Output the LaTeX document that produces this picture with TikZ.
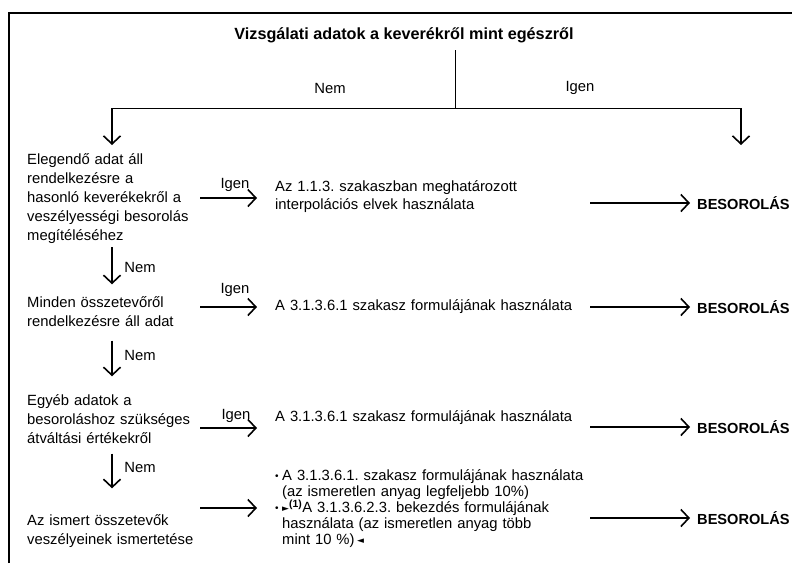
\documentclass[tikz,border=0pt]{standalone}
\usepackage{fontspec}
\setmainfont{Liberation Sans}
\newfontfamily\djv{DejaVu Sans}
\usetikzlibrary{arrows.meta,calc}
\newcommand\mybul{\makebox[7pt][l]{\raisebox{1.2pt}{\fontsize{10}{10}\selectfont•}}}
\newcommand\myind{\hspace*{7pt}}
\newcommand\mytri[1]{\raisebox{1.2pt}{\djv\fontsize{9}{9}\selectfont #1}}
\begin{document}
\begin{tikzpicture}[x=1pt,y=-1pt,
  every node/.append style={execute at begin node=\frenchspacing},
  txt/.style={inner sep=0pt,align=left,font=\fontsize{14.8}{19}\selectfont},
  ques/.style={txt,text width=173pt,anchor=west},
  act/.style={txt,text width=315pt,anchor=west,font=\fontsize{14.8}{18}\selectfont},
  res/.style={inner sep=0pt,anchor=west,font=\fontsize{14.6}{18}\selectfont\bfseries},
  lbl/.style={inner sep=0pt,font=\fontsize{14.8}{18}\selectfont},
  arr/.style={line width=2.1pt,-{Straight Barb[length=8pt,width=17pt,line width=1.6pt]}},
  conn/.style={line width=1pt},
  frame/.style={line width=1.4pt}]
\useasboundingbox (0,0) rectangle (792,563);
\draw[frame] (9,563) -- (9,13) -- (792,13);

% title and top split
\node[inner sep=0pt,font=\fontsize{16.2}{20}\selectfont\bfseries] (title) at (404,35) {Vizsgálati adatok a keverékről mint egészről};
\coordinate (split) at (455,108);
\coordinate (lc) at (112,108);
\coordinate (rc) at (741,108);
\coordinate (lend) at (112,145);
\coordinate (rend) at (741,145);
\coordinate (spine) at (112,0);
\draw[conn,shorten <=7.5pt] (title.south -| split) -- (split);
\draw[conn] (lc) -- (rc);
\draw[arr] (lc) -- (lend);
\draw[arr] (rc) -- (rend);
\node[lbl] (tnem) at (330,88) {Nem};
\node[lbl] (tigen) at (580,88) {Igen};

% questions
\node[ques] (q1) at (27,199) {Elegendő adat áll\\rendelkezésre a\\hasonló keverékekről a\\veszélyességi besorolás\\megítéléséhez};
\node[ques] (q2) at (27,312) {Minden összetevőről\\rendelkezésre áll adat};
\node[ques] (q3) at (27,419) {Egyéb adatok a\\besoroláshoz szükséges\\átváltási értékekről};
\node[ques] (q4) at (27,531) {Az ismert összetevők\\veszélyeinek ismertetése};

% actions
\node[act] (a1) at (275,197) {Az 1.1.3. szakaszban meghatározott\\interpolációs elvek használata};
\node[act] (a2) at (275,307) {A 3.1.3.6.1 szakasz formulájának használata};
\node[act] (a3) at (275,418) {A 3.1.3.6.1 szakasz formulájának használata};
\node[act,font=\fontsize{14.8}{16}\selectfont] (a4) at (275,509) {\mybul A 3.1.3.6.1. szakasz formulájának használata\\\myind(az ismeretlen anyag legfeljebb 10\%)\\\mybul\mytri{►}\textsuperscript{\textbf{(1)}}A 3.1.3.6.2.3. bekezdés formulájának\\\myind használata (az ismeretlen anyag több\\\myind mint 10~\%)\,\mytri{◄}};

% results
\node[res] (b1) at (697,203) {BESOROLÁS};
\node[res] (b2) at (697,307) {BESOROLÁS};
\node[res] (b3) at (697,427) {BESOROLÁS};
\node[res] (b4) at (697,518) {BESOROLÁS};

% row levels of left arrows
\coordinate (r1) at (0,198);
\coordinate (r2) at (0,307);
\coordinate (r3) at (0,428);
\coordinate (r4) at (0,508);

\draw[arr] (q1.east |- r1) -- ($(a1.west |- r1)+(-18,0)$);
\draw[arr] (q2.east |- r2) -- ($(a2.west |- r2)+(-18,0)$);
\draw[arr] (q3.east |- r3) -- ($(a3.west |- r3)+(-18,0)$);
\draw[arr] (q4.east |- r4) -- ($(a4.west |- r4)+(-18,0)$);
\node[lbl] (i1) at (235,185) {Igen};
\node[lbl] (i2) at (235,290) {Igen};
\node[lbl] (i3) at (236,416) {Igen};

\draw[arr] (a1.east |- b1) -- ($(b1.west)+(-7,0)$);
\draw[arr] (a2.east |- b2) -- ($(b2.west)+(-7,0)$);
\draw[arr] (a3.east |- b3) -- ($(b3.west)+(-7,0)$);
\draw[arr] (a4.east |- b4) -- ($(b4.west)+(-7,0)$);

% down arrows
\draw[arr,shorten <=3pt,shorten >=12.5pt] (q1.south -| spine) -- (q2.north -| spine);
\draw[arr,shorten <=13.5pt,shorten >=18pt] (q2.south -| spine) -- (q3.north -| spine);
\draw[arr,shorten <=10pt,shorten >=26pt] (q3.south -| spine) -- (q4.north -| spine);
\node[lbl] (n1) at (140,267) {Nem};
\node[lbl] (n2) at (140,355) {Nem};
\node[lbl] (n3) at (140,467) {Nem};
\end{tikzpicture}
\end{document}
